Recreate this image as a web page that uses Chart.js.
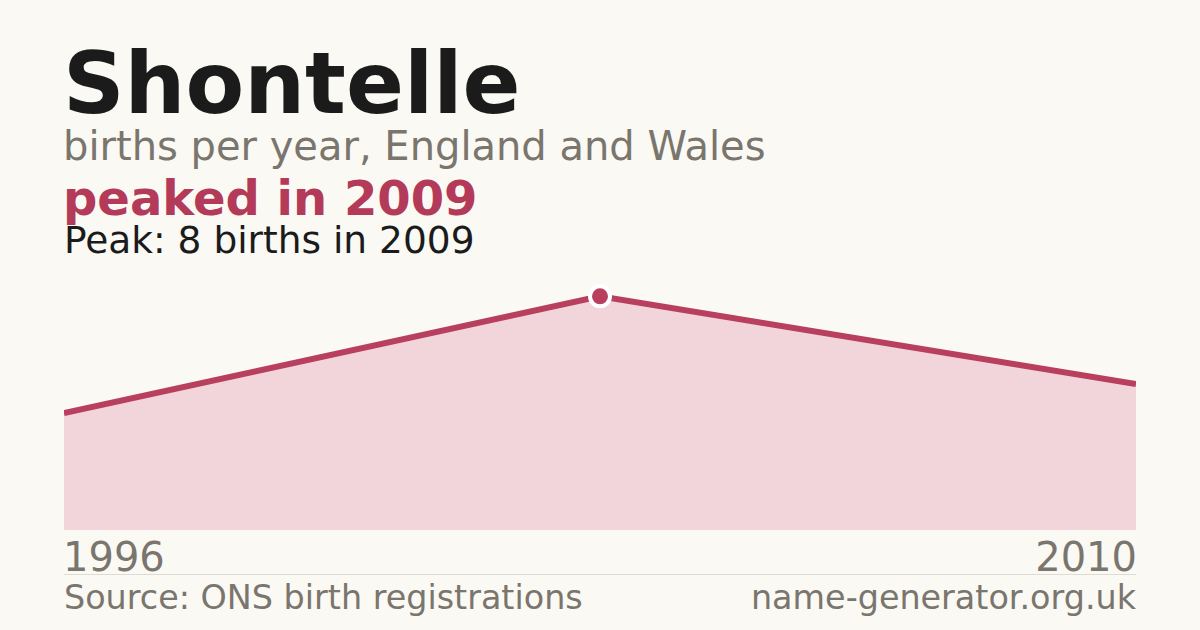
<!DOCTYPE html>
<html>
<head>
<meta charset="utf-8">
<script src="https://cdn.jsdelivr.net/npm/chart.js@4/dist/chart.umd.min.js"></script>
<style>
  html, body { margin: 0; padding: 0; }
  body {
    width: 1200px; height: 630px; overflow: hidden;
    background: #faf9f4;
    font-family: "DejaVu Sans", sans-serif;
    position: relative;
  }
  .txt { position: absolute; line-height: 1; white-space: nowrap; }
  #title { left: 63px; top: 41px; font-size: 85.5px; font-weight: bold; color: #1b1b1b; }
  #subtitle { left: 63px; top: 126px; font-size: 40px; color: #7a756d; }
  #headline { left: 63px; top: 174px; font-size: 48px; font-weight: bold; color: #b33a58; }
  #peakNote { left: 64px; top: 222px; font-size: 37.5px; color: #1b1b1b; }
  #yearStart { left: 63px; top: 537px; font-size: 40px; color: #7a756d; }
  #yearEnd { right: 63px; top: 537px; font-size: 40px; color: #7a756d; }
  #rule { position: absolute; left: 64px; width: 1072px; top: 574px; height: 1px; background: #dedbd3; }
  #source { left: 64px; top: 581px; font-size: 33.4px; color: #7a756d; }
  #site { right: 64px; top: 581px; font-size: 33.4px; color: #7a756d; }
  #wrap { position: absolute; left: 64px; top: 273px; width: 1072px; height: 257px; }
</style>
</head>
<body>
<div class="txt" id="title">Shontelle</div>
<div class="txt" id="subtitle">births per year, England and Wales</div>
<div class="txt" id="headline"></div>
<div class="txt" id="peakNote"></div>
<div id="wrap"><canvas id="chart" width="1072" height="257"></canvas></div>
<div class="txt" id="yearStart"></div>
<div class="txt" id="yearEnd"></div>
<div id="rule"></div>
<div class="txt" id="source">Source: ONS birth registrations</div>
<div class="txt" id="site">name-generator.org.uk</div>

<script>
// data
const years = ['1996', '2009', '2010'];
const births = [4, 8, 5];

const lineColour = '#b93f5f';
const fillColour = '#f2d5da';

const peak = Math.max(...births);
const peakIdx = births.indexOf(peak);

document.getElementById('headline').textContent = 'peaked in ' + years[peakIdx];
document.getElementById('peakNote').textContent = 'Peak: ' + peak + ' births in ' + years[peakIdx];
document.getElementById('yearStart').textContent = years[0];
document.getElementById('yearEnd').textContent = years[years.length - 1];

const ctx = document.getElementById('chart').getContext('2d');

new Chart(ctx, {
    type: 'line',
    data: {
        labels: years,
        datasets: [{
            data: births,
            borderColor: lineColour,
            backgroundColor: fillColour,
            borderWidth: 6,
            borderCapStyle: 'butt',
            tension: 0,
            fill: 'origin',
            pointRadius: births.map((v, i) => i === peakIdx ? 10 : 0),
            pointHoverRadius: 0,
            pointBackgroundColor: lineColour,
            pointBorderColor: '#ffffff',
            pointBorderWidth: 4,
        }],
    },
    options: {
        responsive: false,
        animation: false,
        devicePixelRatio: 1,
        layout: { padding: 0 },
        clip: false,
        plugins: {
            legend: { display: false },
            tooltip: { enabled: false },
        },
        scales: {
            x: {
                display: false,
                offset: false,
            },
            y: {
                display: false,
                min: 0,
                max: peak * 1.1,
            },
        },
    },
});
</script>
</body>
</html>
